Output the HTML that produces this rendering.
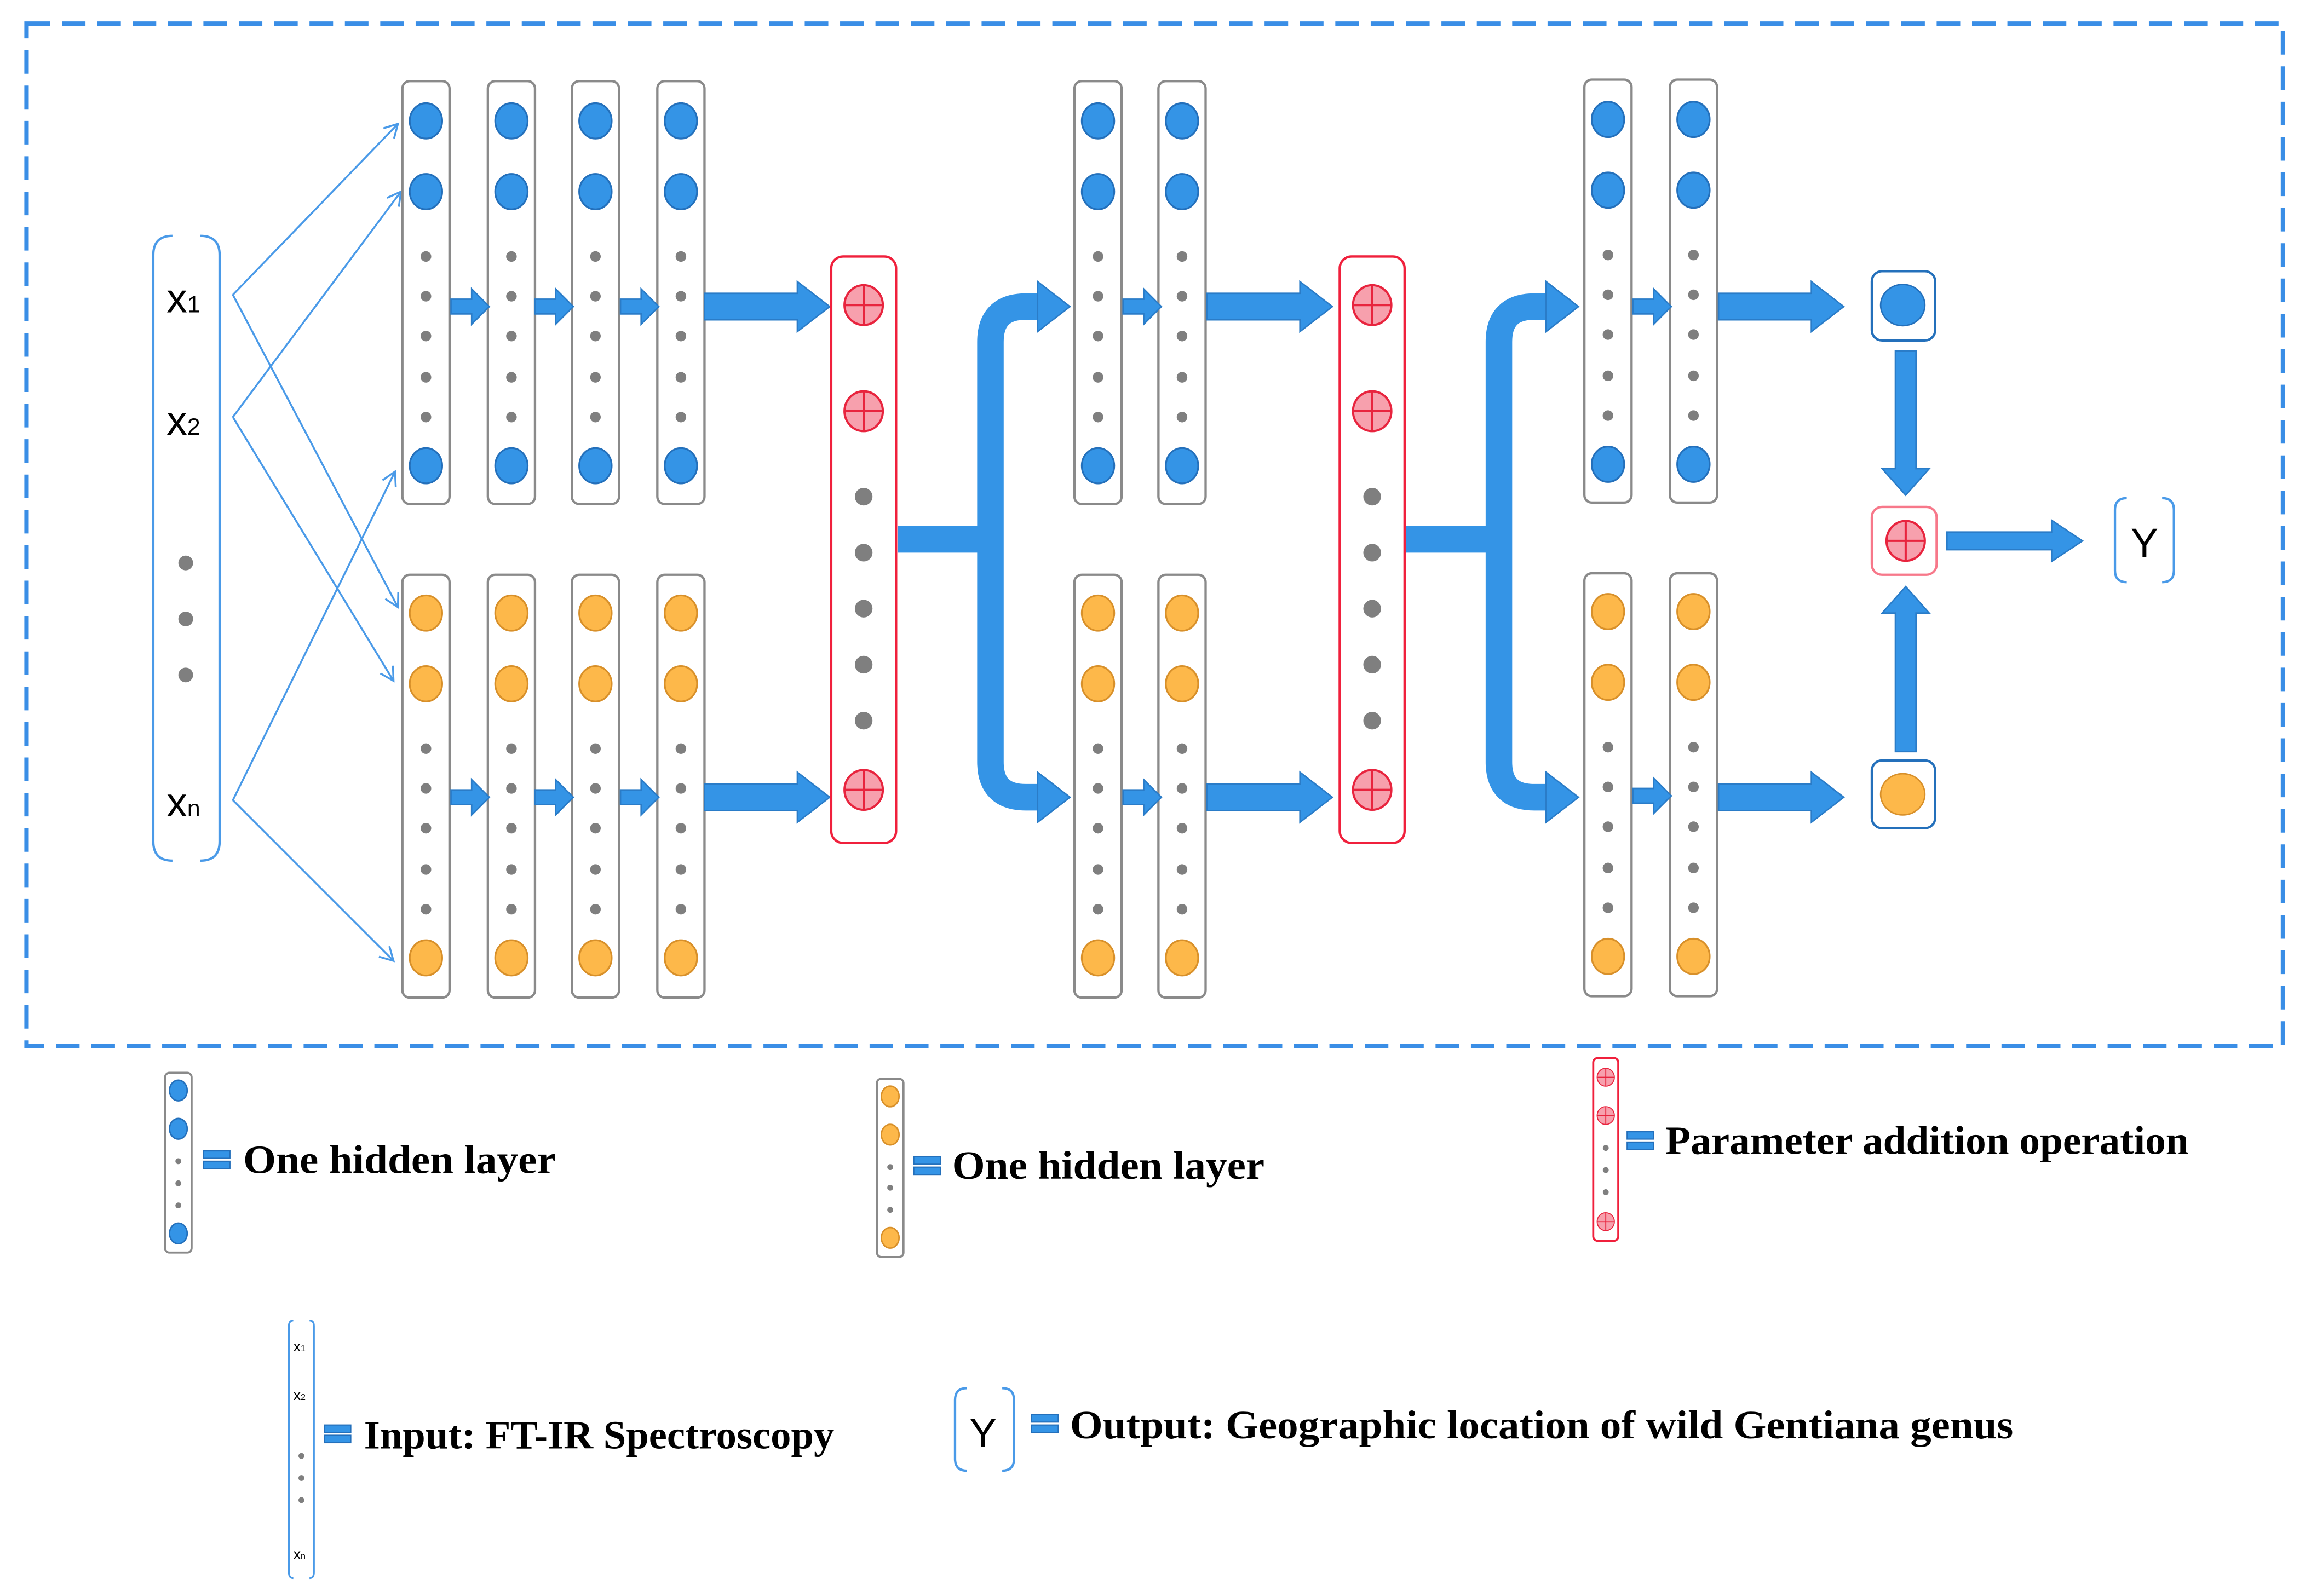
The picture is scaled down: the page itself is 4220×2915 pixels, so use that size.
<!DOCTYPE html>
<html><head><meta charset="utf-8"><style>
html,body{margin:0;padding:0;background:#fff;}
svg{display:block;}
.lg{font-family:"Liberation Serif",serif;font-weight:bold;font-size:27px;fill:#000;}
.sx{font-family:"Liberation Sans",sans-serif;fill:#000;}
</style></head><body>
<svg width="4220" height="2915" viewBox="0 0 1568 1083" xmlns="http://www.w3.org/2000/svg">
<defs>
<g id="ct">
<rect x="-16" y="0" width="32" height="287" rx="5" fill="#fff" stroke="#8a8a8a" stroke-width="1.6"/>
<ellipse cx="0" cy="27" rx="11" ry="12" fill="#3494e6" stroke="#2470bb" stroke-width="1.2"/>
<ellipse cx="0" cy="75" rx="11" ry="12" fill="#3494e6" stroke="#2470bb" stroke-width="1.2"/>
<ellipse cx="0" cy="261" rx="11" ry="12" fill="#3494e6" stroke="#2470bb" stroke-width="1.2"/>
<g fill="#7f7f7f"><circle cy="119" r="3.6"/><circle cy="146" r="3.6"/><circle cy="173" r="3.6"/><circle cy="201" r="3.6"/><circle cy="228" r="3.6"/></g>
</g>
<g id="cb">
<rect x="-16" y="0" width="32" height="287" rx="5" fill="#fff" stroke="#8a8a8a" stroke-width="1.6"/>
<ellipse cx="0" cy="26" rx="11" ry="12" fill="#fdb84a" stroke="#d8902a" stroke-width="1.2"/>
<ellipse cx="0" cy="74" rx="11" ry="12" fill="#fdb84a" stroke="#d8902a" stroke-width="1.2"/>
<ellipse cx="0" cy="260" rx="11" ry="12" fill="#fdb84a" stroke="#d8902a" stroke-width="1.2"/>
<g fill="#7f7f7f"><circle cy="118" r="3.6"/><circle cy="145" r="3.6"/><circle cy="172" r="3.6"/><circle cy="200" r="3.6"/><circle cy="227" r="3.6"/></g>
</g>
<g id="pl">
<ellipse cx="0" cy="0" rx="13" ry="13.5" fill="#f7a0ad" stroke="#e8243e" stroke-width="1.5"/>
<path d="M-13 0H13M0 -13.5V13.5" stroke="#e8243e" stroke-width="1.5"/>
</g>
<g id="rb">
<rect x="-22" y="0" width="44" height="398" rx="8" fill="#fff" stroke="#f0203c" stroke-width="1.6"/>
<use href="#pl" x="0" y="33"/><use href="#pl" x="0" y="105"/><use href="#pl" x="0" y="362"/>
<g fill="#7f7f7f"><circle cy="163" r="6"/><circle cy="201" r="6"/><circle cy="239" r="6"/><circle cy="277" r="6"/><circle cy="315" r="6"/></g>
</g>
<polygon id="sa" points="0,-5 14,-5 14,-12 26,0 14,12 14,5 0,5" fill="#3494e6" stroke="#2a7cc8" stroke-width="1"/>
<polygon id="ba" points="0,-9 63,-9 63,-17 85,0 63,17 63,9 0,9" fill="#3494e6" stroke="#2a7cc8" stroke-width="1"/>
<marker id="mk" markerWidth="12" markerHeight="12" refX="10" refY="6" orient="auto" markerUnits="userSpaceOnUse">
<path d="M1 1L10 6L1 11" fill="none" stroke="#4a9ae8" stroke-width="1.3"/>
</marker>
<g id="eq"><rect x="0" y="0" width="18" height="5" fill="#3494e6" stroke="#2470bb" stroke-width="0.8"/><rect x="0" y="7" width="18" height="5" fill="#3494e6" stroke="#2470bb" stroke-width="0.8"/></g>
</defs>

<rect x="18" y="16" width="1531" height="694" fill="none" stroke="#3a8ee6" stroke-width="3" stroke-dasharray="16,8"/>

<g fill="none" stroke="#4a9ae8" stroke-width="1.6">
<path d="M117 160Q104 160 104 173V571Q104 584 117 584"/>
<path d="M136 160Q149 160 149 173V571Q149 584 136 584"/>
</g>
<text class="sx" x="113" y="212" font-size="28">x<tspan font-size="16">1</tspan></text>
<text class="sx" x="113" y="295" font-size="28">x<tspan font-size="16">2</tspan></text>
<g fill="#7f7f7f"><circle cx="126" cy="382" r="5"/><circle cx="126" cy="420" r="5"/><circle cx="126" cy="458" r="5"/></g>
<text class="sx" x="113" y="554" font-size="28">x<tspan font-size="16">n</tspan></text>

<g stroke="#4a9ae8" stroke-width="1.3" fill="none" marker-end="url(#mk)">
<path d="M158 200L270 84"/><path d="M158 200L270 412"/>
<path d="M158 283L272 130"/><path d="M158 283L267 462"/>
<path d="M158 543L268 320"/><path d="M158 543L267 652"/>
</g>

<use href="#ct" x="289" y="55"/><use href="#ct" x="347" y="55"/><use href="#ct" x="404" y="55"/><use href="#ct" x="462" y="55"/>
<use href="#cb" x="289" y="390"/><use href="#cb" x="347" y="390"/><use href="#cb" x="404" y="390"/><use href="#cb" x="462" y="390"/>
<use href="#sa" x="306" y="208"/><use href="#sa" x="363" y="208"/><use href="#sa" x="421" y="208"/>
<use href="#sa" x="306" y="541"/><use href="#sa" x="363" y="541"/><use href="#sa" x="421" y="541"/>
<use href="#ba" x="478" y="208"/><use href="#ba" x="478" y="541"/>
<use href="#rb" x="586" y="174"/>

<g fill="none" stroke="#3494e6" stroke-width="18">
<path d="M609 366H676"/>
<path d="M706 208H696Q672 208 672 232V517Q672 541 696 541H706"/>
</g>
<polygon points="704,191 726,208 704,225" fill="#3494e6" stroke="#2a7cc8"/>
<polygon points="704,524 726,541 704,558" fill="#3494e6" stroke="#2a7cc8"/>

<use href="#ct" x="745" y="55"/><use href="#ct" x="802" y="55"/>
<use href="#cb" x="745" y="390"/><use href="#cb" x="802" y="390"/>
<use href="#sa" x="762" y="208"/><use href="#sa" x="762" y="541"/>
<use href="#ba" x="819" y="208"/><use href="#ba" x="819" y="541"/>
<use href="#rb" x="931" y="174"/>

<g fill="none" stroke="#3494e6" stroke-width="18">
<path d="M954 366H1021"/>
<path d="M1051 208H1041Q1017 208 1017 232V517Q1017 541 1041 541H1051"/>
</g>
<polygon points="1049,191 1071,208 1049,225" fill="#3494e6" stroke="#2a7cc8"/>
<polygon points="1049,524 1071,541 1049,558" fill="#3494e6" stroke="#2a7cc8"/>

<use href="#ct" x="1091" y="54"/><use href="#ct" x="1149" y="54"/>
<use href="#cb" x="1091" y="389"/><use href="#cb" x="1149" y="389"/>
<use href="#sa" x="1108" y="208"/><use href="#sa" x="1108" y="540"/>
<use href="#ba" x="1166" y="208"/><use href="#ba" x="1166" y="541"/>

<rect x="1270" y="184" width="43" height="47" rx="7" fill="#fff" stroke="#2470bb" stroke-width="1.6"/>
<ellipse cx="1291" cy="207" rx="15" ry="14" fill="#3494e6" stroke="#2470bb"/>
<rect x="1270" y="516" width="43" height="46" rx="7" fill="#fff" stroke="#2470bb" stroke-width="1.6"/>
<ellipse cx="1291" cy="539" rx="15" ry="14" fill="#fdb84a" stroke="#d8902a"/>
<rect x="1270" y="344" width="44" height="46" rx="7" fill="#fff" stroke="#f7788a" stroke-width="1.6"/>
<use href="#pl" x="1293" y="367"/>
<polygon points="1286,238 1300,238 1300,318 1309,318 1293,336 1277,318 1286,318" fill="#3494e6" stroke="#2a7cc8"/>
<polygon points="1286,510 1300,510 1300,416 1309,416 1293,398 1277,416 1286,416" fill="#3494e6" stroke="#2a7cc8"/>
<polygon points="1321,361 1392,361 1392,353 1413,367 1392,381 1392,373 1321,373" fill="#3494e6" stroke="#2a7cc8"/>
<g fill="none" stroke="#4a9ae8" stroke-width="1.6">
<path d="M1443 338Q1435 338 1435 346V387Q1435 395 1443 395"/>
<path d="M1467 338Q1475 338 1475 346V387Q1475 395 1467 395"/>
</g>
<text class="sx" x="1455" y="378" font-size="28" text-anchor="middle">Y</text>

<rect x="112" y="728" width="18" height="122" rx="3" fill="#fff" stroke="#8a8a8a" stroke-width="1.4"/>
<ellipse cx="121" cy="740" rx="6" ry="7" fill="#3494e6" stroke="#2470bb"/>
<ellipse cx="121" cy="766" rx="6" ry="7" fill="#3494e6" stroke="#2470bb"/>
<ellipse cx="121" cy="837" rx="6" ry="7" fill="#3494e6" stroke="#2470bb"/>
<g fill="#7f7f7f"><circle cx="121" cy="788" r="2"/><circle cx="121" cy="803" r="2"/><circle cx="121" cy="818" r="2"/></g>
<use href="#eq" x="138" y="781"/>
<text class="lg" x="165" y="796" textLength="212" lengthAdjust="spacingAndGlyphs">One hidden layer</text>

<rect x="595" y="732" width="18" height="121" rx="3" fill="#fff" stroke="#8a8a8a" stroke-width="1.4"/>
<ellipse cx="604" cy="744" rx="6" ry="7" fill="#fdb84a" stroke="#d8902a"/>
<ellipse cx="604" cy="770" rx="6" ry="7" fill="#fdb84a" stroke="#d8902a"/>
<ellipse cx="604" cy="840" rx="6" ry="7" fill="#fdb84a" stroke="#d8902a"/>
<g fill="#7f7f7f"><circle cx="604" cy="792" r="2"/><circle cx="604" cy="806" r="2"/><circle cx="604" cy="821" r="2"/></g>
<use href="#eq" x="620" y="785"/>
<text class="lg" x="646" y="800" textLength="212" lengthAdjust="spacingAndGlyphs">One hidden layer</text>

<rect x="1081" y="718" width="17" height="124" rx="3" fill="#fff" stroke="#f0203c" stroke-width="1.4"/>
<g transform="translate(1089.5 731) scale(0.45)"><use href="#pl"/></g>
<g transform="translate(1089.5 757) scale(0.45)"><use href="#pl"/></g>
<g transform="translate(1089.5 829) scale(0.45)"><use href="#pl"/></g>
<g fill="#7f7f7f"><circle cx="1089.5" cy="779" r="2"/><circle cx="1089.5" cy="794" r="2"/><circle cx="1089.5" cy="809" r="2"/></g>
<use href="#eq" x="1104" y="768"/>
<text class="lg" x="1130" y="783" textLength="355" lengthAdjust="spacingAndGlyphs">Parameter addition operation</text>

<g fill="none" stroke="#4a9ae8" stroke-width="1.2">
<path d="M199 896Q196 896 196 900V1067Q196 1071 199 1071"/>
<path d="M210 896Q213 896 213 900V1067Q213 1071 210 1071"/>
</g>
<text class="sx" x="199" y="917" font-size="10">x<tspan font-size="6">1</tspan></text>
<text class="sx" x="199" y="950" font-size="10">x<tspan font-size="6">2</tspan></text>
<g fill="#7f7f7f"><circle cx="204.5" cy="988" r="2"/><circle cx="204.5" cy="1003" r="2"/><circle cx="204.5" cy="1018" r="2"/></g>
<text class="sx" x="199" y="1058" font-size="10">x<tspan font-size="6">n</tspan></text>
<use href="#eq" x="220" y="967"/>
<text class="lg" x="247" y="983" textLength="319" lengthAdjust="spacingAndGlyphs">Input: FT-IR Spectroscopy</text>

<g fill="none" stroke="#4a9ae8" stroke-width="1.6">
<path d="M656 942Q648 942 648 950V990Q648 998 656 998"/>
<path d="M680 942Q688 942 688 950V990Q688 998 680 998"/>
</g>
<text class="sx" x="667" y="982" font-size="28" text-anchor="middle">Y</text>
<use href="#eq" x="700" y="960"/>
<text class="lg" x="726" y="976" textLength="640" lengthAdjust="spacingAndGlyphs">Output: Geographic location of wild Gentiana genus</text>
</svg>
</body></html>
